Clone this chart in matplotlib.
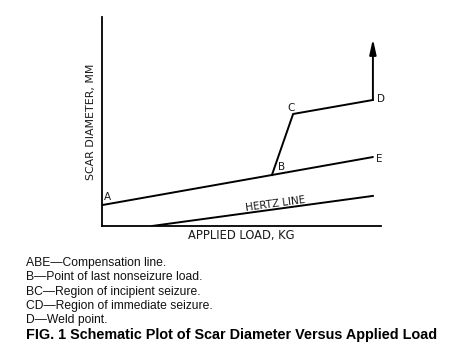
import matplotlib.pyplot as plt

# Kolejne punkty krzywej (jednostki umowne: obciazenie, srednica sladu)
abe_x = [0.0, 6.09, 9.71]
abe_y = [1.0, 2.44, 3.30]
bcd_x = [6.09, 6.85, 9.71]
bcd_y = [2.44, 5.36, 6.03]
weld_x = 9.71
weld_top = 8.95
hertz_x = [1.79, 9.71]
hertz_y = [0.0, 1.44]

punkty = {'A': (0.0, 1.0), 'B': (6.09, 2.44), 'C': (6.85, 5.36),
          'D': (9.71, 6.03), 'E': (9.71, 3.30)}

opis = ['ABE\u2014Compensation line.',
        'B\u2014Point of last nonseizure load.',
        'BC\u2014Region of incipient seizure.',
        'CD\u2014Region of immediate seizure.',
        'D\u2014Weld point.']
tytul = 'FIG. 1 Schematic Plot of Scar Diameter Versus Applied Load'

fig = plt.figure(figsize=(4.63, 3.6), dpi=100)
ax = fig.add_axes([102 / 463, 1 - 226 / 360, 279 / 463, 209 / 360])
ax.set_xlim(0, 10)
ax.set_ylim(0, 10)

lw = 1.4
ax.plot(abe_x, abe_y, color='black', linewidth=lw, solid_capstyle='round')
ax.plot(bcd_x, bcd_y, color='black', linewidth=lw, solid_joinstyle='miter')
ax.plot(hertz_x, hertz_y, color='black', linewidth=lw)
ax.annotate('', xy=(weld_x, weld_top), xytext=(bcd_x[-1], bcd_y[-1]),
            arrowprops=dict(arrowstyle='-|>,head_length=0.9,head_width=0.2',
                            color='black', linewidth=lw, shrinkA=0, shrinkB=0))

# przesuniecia etykiet w punktach
przes = {'A': (3.6, 5.8), 'B': (7.2, 5.8), 'C': (-1.4, 4.3),
         'D': (5.8, 0.7), 'E': (4.3, -1.4)}
for nazwa, (px, py) in punkty.items():
    ax.annotate(nazwa, (px, py), xytext=przes[nazwa], textcoords='offset points',
                fontsize=7.5, ha='center', va='center', color='#1a1a1a')

ax.text(6.2, 1.05, 'HERTZ LINE', fontsize=7.5, rotation=7.8, ha='center', va='center',
        color='#1a1a1a', rotation_mode='anchor')

for s in ['top', 'right']:
    ax.spines[s].set_visible(False)
ax.spines['left'].set_linewidth(1.3)
ax.spines['bottom'].set_linewidth(1.3)
ax.set_xticks([])
ax.set_yticks([])
ax.set_xlabel('APPLIED LOAD, KG', fontsize=8.3, color='#1a1a1a', labelpad=2)
ax.set_ylabel('SCAR DIAMETER, MM', fontsize=7.9, color='#1a1a1a', labelpad=4)

y0 = 263
for i, linia in enumerate(opis):
    fig.text(26 / 463, 1 - (y0 + i * 14.3) / 360, linia, fontsize=8.7,
             family='Liberation Sans', ha='left', va='center', color='#111111')
fig.text(26 / 463, 1 - 335 / 360, tytul, fontsize=10.4, family='Liberation Sans',
         fontweight='bold', ha='left', va='center', color='black')

fig.savefig('out.png', dpi=100)
